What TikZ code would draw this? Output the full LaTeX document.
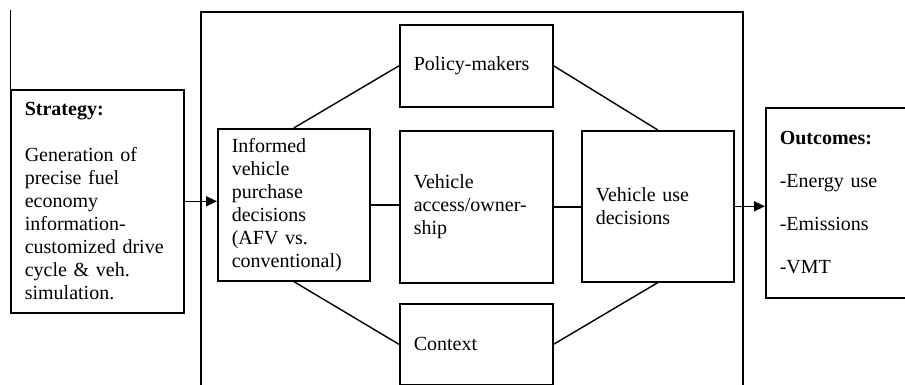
\documentclass[tikz,border=0pt]{standalone}
\usepackage{fontspec}
\setmainfont{Liberation Serif}
\usetikzlibrary{arrows.meta}

\tikzset{
  box/.style={draw, line width=1.6pt, rectangle, anchor=north west, align=left,
    inner xsep=14pt, inner ysep=0pt, font=\fontsize{20}{23}\selectfont},
  link/.style={line width=1.4pt},
  flow/.style={line width=1.4pt, -{Triangle[length=11pt,width=10pt]}}
}

\begin{document}
\begin{tikzpicture}[x=1pt,y=-1pt]
  \useasboundingbox (0,0) rectangle (905,385);
  % outer frame round the middle part
  \draw[line width=1.8pt] (201,392) -- (201,12) -- (743,12) -- (743,392);
  % boxes
  \node[box, text width=145pt, minimum height=223pt] (strategy) at (10,89)
    {\textbf{Strategy:}\\[23pt]Generation of\\precise fuel\\economy\\information-\\customized drive\\cycle \& veh.\\simulation.};
  \node[box, text width=124pt, minimum height=152pt] (purchase) at (217,128)
    {Informed\\vehicle\\purchase\\decisions\\(AFV vs.\\conventional)};
  \node[box, text width=125pt, minimum height=82pt] (policy) at (399,24)
    {Policy-makers};
  \node[box, text width=125pt, minimum height=152pt] (access) at (399,130)
    {Vehicle\\access/owner-\\ship};
  \node[box, text width=125pt, minimum height=81pt] (context) at (399,303)
    {Context};
  \node[box, text width=124pt, minimum height=151pt] (use) at (581,130)
    {Vehicle use\\decisions};
  \node[box, text width=132pt, minimum height=190pt] (outcomes) at (765,107)
    {\textbf{Outcomes:}\\[20pt]-Energy use\\[20pt]-Emissions\\[20pt]-VMT};
  % left edge line above the strategy box
  \draw[line width=1pt] (strategy.north west) -- ++(0,-79);
  % links
  \draw[link] (purchase.north) -- (policy.west);
  \draw[link] (policy.east) -- (use.north);
  \draw[link] (purchase.south) -- (context.west);
  \draw[link] (context.east) -- (use.south);
  \draw[link] (purchase.east) -- (purchase.east -| access.west);
  \draw[link] (access.east) -- (access.east -| use.west);
  % arrows in and out
  \draw[flow] (strategy.east) -- (strategy.east -| purchase.west);
  \draw[flow] (use.east) -- (use.east -| outcomes.west);
\end{tikzpicture}
\end{document}
